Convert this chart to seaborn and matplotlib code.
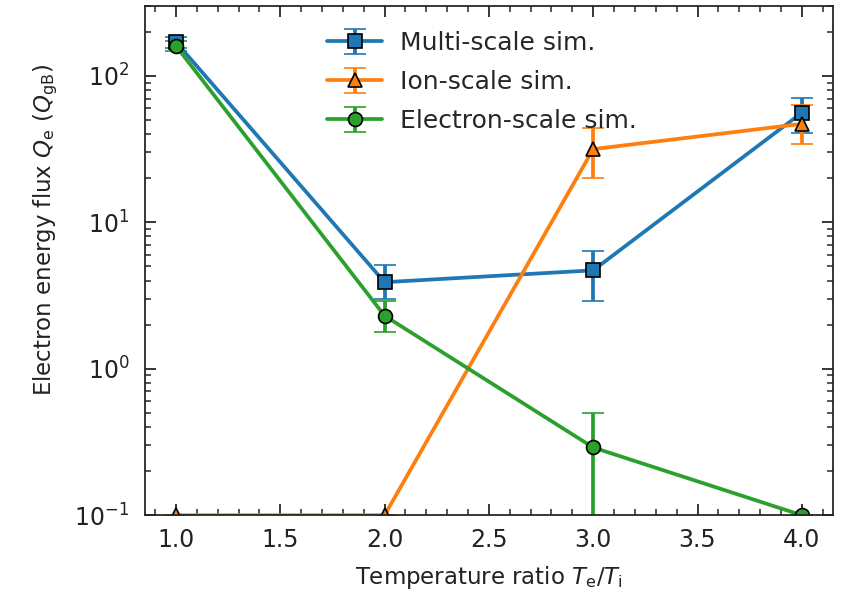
import numpy as np
import matplotlib
matplotlib.use("Agg")
import matplotlib.pyplot as plt
import seaborn as sns
from matplotlib.ticker import MultipleLocator

sns.set_style("ticks")
plt.rcParams['font.family'] = ['DejaVu Sans']
plt.rcParams['xtick.direction'] = 'in'
plt.rcParams['ytick.direction'] = 'in'
plt.rcParams['xtick.top'] = True
plt.rcParams['ytick.right'] = True
plt.rcParams['xtick.minor.visible'] = True
plt.rcParams['ytick.minor.visible'] = True

# -------------------- DATA ---------------------------
temp_ratio = [1.0, 2.0, 3.0, 4.0]

multi_q = [170, 3.9, 4.7, 56]
multi_lo = [155, 3.0, 2.9, 41]
multi_hi = [185, 5.1, 6.4, 71]

ion_q = [0.1, 0.1, 31.6, 47]
ion_lo = [0.1, 0.1, 20, 34]
ion_hi = [0.1, 0.1, 44, 63]

elec_q = [160, 2.3, 0.29, 0.1]
elec_lo = [148, 1.77, 0.01, 0.1]
elec_hi = [172, 2.9, 0.50, 0.1]

labels = ["Multi-scale sim.", "Ion-scale sim.", "Electron-scale sim."]
markers = ["s", "^", "o"]

# -------------------- PLOT ---------------------------
colors = sns.color_palette("tab10")
fig, ax = plt.subplots(figsize=(8.51, 5.97), dpi=100)
fig.subplots_adjust(left=0.170, right=0.979, top=0.990, bottom=0.137)

series = [(multi_q, multi_lo, multi_hi), (ion_q, ion_lo, ion_hi), (elec_q, elec_lo, elec_hi)]
for (q, lo, hi), lab, mk, c in zip(series, labels, markers, colors[:3]):
    q = np.array(q)
    yerr = [q - np.array(lo), np.array(hi) - q]
    ax.errorbar(temp_ratio, q, yerr=yerr, label=lab, color=c, marker=mk,
                markersize=10, markeredgecolor='black', markeredgewidth=1.2,
                linewidth=2.7, elinewidth=2.7, capsize=8, capthick=2.2)

ax.set_yscale("log")
ax.set_ylim(0.1, 300)
ax.set_xlim(0.85, 4.15)
ax.xaxis.set_major_locator(MultipleLocator(0.5))
ax.xaxis.set_minor_locator(MultipleLocator(0.1))
ax.tick_params(which='major', length=8, width=1.3, labelsize=17, labelcolor='#222222')
ax.tick_params(which='minor', length=4.5, width=1.1)
ax.tick_params(axis='x', which='major', pad=9)
ax.tick_params(axis='y', which='major', pad=11)
for s in ax.spines.values():
    s.set_linewidth(1.3)

ax.set_xlabel(r"Temperature ratio $T_\mathrm{e}/T_\mathrm{i}$", fontsize=16.5,
              labelpad=9, color='#222222')
ax.set_ylabel(r"Electron energy flux $Q_\mathrm{e}$ ($Q_\mathrm{gB}$)", fontsize=16.5,
              labelpad=10, y=0.56, color='#222222')
ax.legend(loc="upper center", frameon=False, fontsize=18, handlelength=2.2,
          handletextpad=0.7, labelspacing=0.6, borderaxespad=0.6,
          bbox_to_anchor=(0.49, 1.0))

plt.savefig("out.png")
